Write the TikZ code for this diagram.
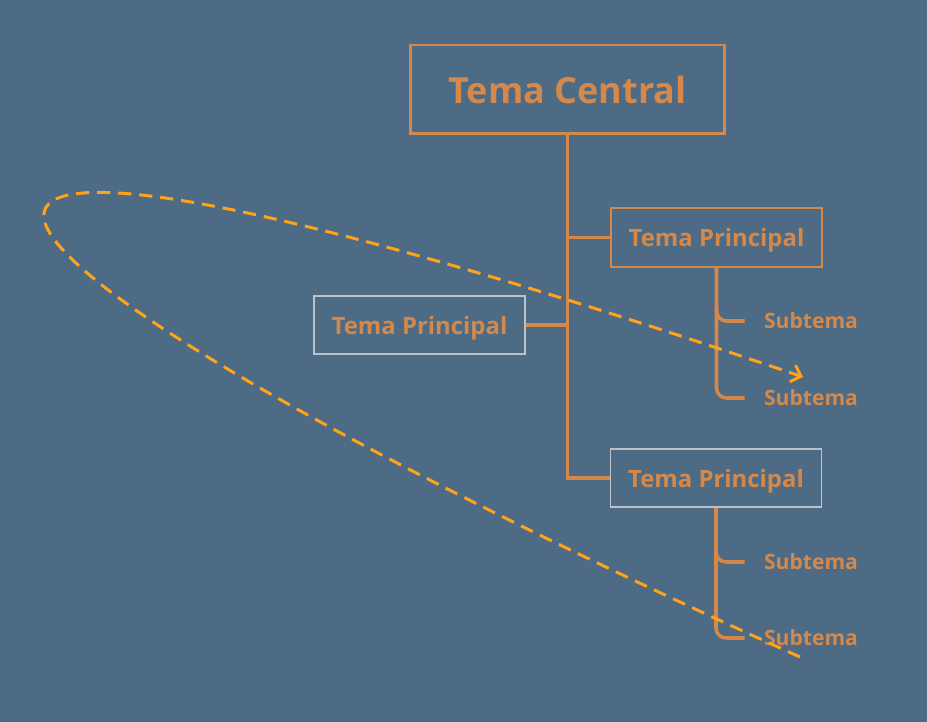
\documentclass[tikz,border=0pt]{standalone}
\usepackage{fontspec}
\setmainfont{Open Sans}
\usepackage{tikz}
\usetikzlibrary{arrows.meta, positioning}
\definecolor{BgBlue}{HTML}{4D6B85}
\definecolor{TopicOrange}{HTML}{D4894A}
\definecolor{LinkOrange}{HTML}{FFA31A}
\definecolor{EdgeGray}{HTML}{BCC2C8}

\begin{document}
\begin{tikzpicture}[
  x=0.02cm, y=-0.02cm,
  central/.style={rectangle, draw=TopicOrange, line width=1.7pt, minimum width=6.3cm, minimum height=1.78cm,
              text=TopicOrange, font=\fontsize{20.5}{24}\selectfont\bfseries},
  topic/.style={rectangle, line width=1.4pt, minimum width=4.22cm, minimum height=1.17cm, text depth=0pt,
              text=TopicOrange, font=\fontsize{13.6}{17}\selectfont\bfseries},
  subtopic/.style={inner xsep=0.38cm, text=TopicOrange, font=\fontsize{12}{15}\selectfont\bfseries},
  trunk/.style={draw=TopicOrange, line width=2pt},
  twig/.style={draw=TopicOrange, line width=2pt, rounded corners=0.2cm},
  relation/.style={draw=LinkOrange, line width=1.7pt, dash pattern=on 7.5pt off 4.5pt,
              -{Straight Barb[length=5pt, width=10pt]}}
]

\fill[BgBlue] (0,0) rectangle (927,722);
\useasboundingbox (0,0) rectangle (927,722);

\node[central] (center) at (567.5,89.5) {Tema Central};
\node[topic, draw=TopicOrange] (right1) at (716.5,237.5) {Tema Principal};
\node[topic, draw=EdgeGray, line width=0.9pt]    (left1)  at (419.5,325) {Tema Principal};
\node[topic, draw=EdgeGray, line width=0.9pt]    (right2) at (716,478) {Tema Principal};

\node[subtopic] (sub1) at (811,321) {Subtema};
\node[subtopic] (sub2) at (811,398) {Subtema};
\node[subtopic] (sub3) at (811,562) {Subtema};
\node[subtopic] (sub4) at (811,638) {Subtema};

% trunk from the central topic
\draw[trunk] (center.south) |- (right2.west);
\draw[trunk] (center.south |- right1.west) -- (right1.west);
\draw[trunk] (center.south |- left1.east) -- (left1.east);

% subtopics
\draw[twig] (right1.south) |- (sub2.west);
\draw[twig] ([yshift=0.3cm]right1.south |- sub1.west) |- (sub1.west);
\draw[twig] (right2.south) |- (sub4.west);
\draw[twig] ([yshift=0.3cm]right2.south |- sub3.west) |- (sub3.west);

% dashed relation
\draw[relation] ([xshift=-0.22cm, yshift=-0.38cm]sub4.center)
  .. controls (-180,215) and (-236,22) .. ([xshift=-0.16cm, yshift=0.42cm]sub2.center);

\end{tikzpicture}
\end{document}
